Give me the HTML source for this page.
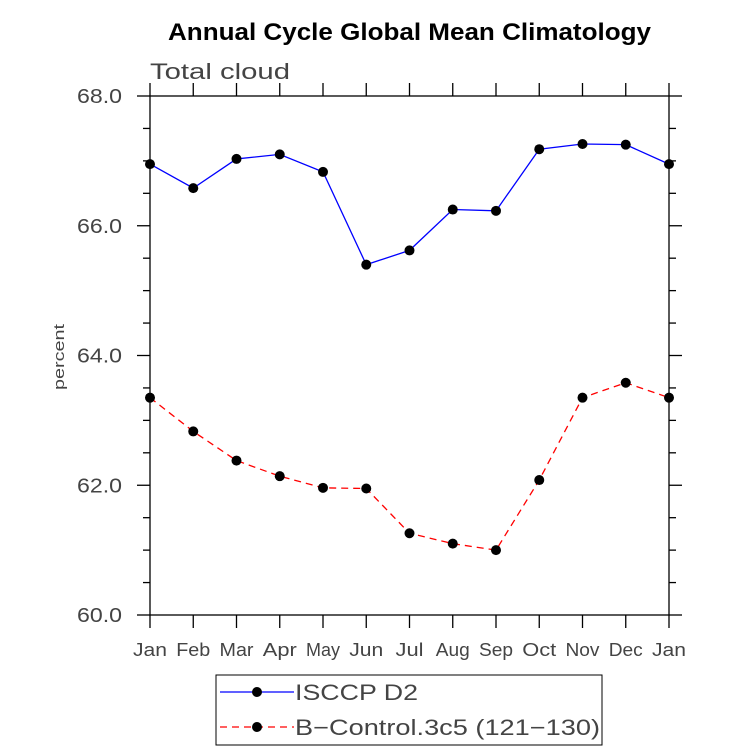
<!DOCTYPE html>
<html><head><style>body{margin:0;background:#fff}</style></head><body>
<svg width="733" height="751" xmlns="http://www.w3.org/2000/svg" font-family="Liberation Sans, sans-serif">
<rect width="733" height="751" fill="#fff"/>
<text x="168" y="40" textLength="483" lengthAdjust="spacingAndGlyphs" font-size="24" font-weight="bold">Annual Cycle Global Mean Climatology</text>
<text x="150" y="79" textLength="140" lengthAdjust="spacingAndGlyphs" font-size="22" fill="#444">Total cloud</text>
<text x="64" y="357" font-size="15" fill="#444" text-anchor="middle" transform="rotate(-90 64 357)" textLength="66" lengthAdjust="spacingAndGlyphs">percent</text>
<g id="ax" stroke="#000" stroke-width="1.3" fill="none">
<rect x="150" y="96" width="519" height="519"/>
</g>
<g id="ticks" stroke="#000" stroke-width="1.3"></g>
<g id="lbl" font-size="20" fill="#444"></g>
<polyline id="b" fill="none" stroke="#0000ff" stroke-width="1.3"/>
<polyline id="r" fill="none" stroke="#ff0000" stroke-width="1.3" stroke-dasharray="7,5"/>
<g id="pts" fill="#000"></g>
<rect x="216" y="675" width="386" height="70" fill="none" stroke="#000" stroke-width="1"/>
<line x1="220" y1="692" x2="294" y2="692" stroke="#0000ff" stroke-width="1.3"/>
<circle cx="257" cy="692" r="5"/>
<text x="295" y="700" font-size="22" fill="#444" textLength="123" lengthAdjust="spacingAndGlyphs">ISCCP D2</text>
<line x1="220" y1="727" x2="294" y2="727" stroke="#ff0000" stroke-width="1.3" stroke-dasharray="7,5"/>
<circle cx="257" cy="727" r="5"/>
<text x="295" y="735" font-size="22" fill="#444" textLength="305" lengthAdjust="spacingAndGlyphs">B−Control.3c5 (121−130)</text>
</svg>
<script>
var ns="http://www.w3.org/2000/svg";
function el(p,t,a){var e=document.createElementNS(ns,t);for(var k in a)e.setAttribute(k,a[k]);document.getElementById(p).appendChild(e);return e;}
var X=function(i){return 150+i*519/12},Y=function(v){return 96+(68-v)*519/8};
var m=["Jan","Feb","Mar","Apr","May","Jun","Jul","Aug","Sep","Oct","Nov","Dec","Jan"];
for(var i=0;i<13;i++){var x=X(i);el("ticks","line",{x1:x,y1:615,x2:x,y2:628});el("ticks","line",{x1:x,y1:96,x2:x,y2:83});
var t=el("lbl","text",{x:x,y:656,"text-anchor":"middle","font-size":"18",textLength:(m[i]=="Jul"?28:34),lengthAdjust:"spacingAndGlyphs"});t.textContent=m[i];}
for(var k=0;k<=16;k++){var v=60+k*0.5,y=Y(v),L=(k%4==0)?13:7;
el("ticks","line",{x1:150,y1:y,x2:150-L,y2:y});el("ticks","line",{x1:669,y1:y,x2:669+L,y2:y});
if(k%4==0){var t=el("lbl","text",{x:77,y:y+7,textLength:45,lengthAdjust:"spacingAndGlyphs"});t.textContent=v.toFixed(1);}}
var b=[66.95,66.58,67.03,67.10,66.83,65.40,65.62,66.25,66.23,67.18,67.26,67.25,66.95];
var r=[63.35,62.83,62.38,62.14,61.96,61.95,61.26,61.10,61.00,62.08,63.35,63.58,63.35];
function pl(id,d){var s=d.map(function(v,i){return X(i)+","+Y(v)}).join(" ");document.getElementById(id).setAttribute("points",s);
d.forEach(function(v,i){el("pts","circle",{cx:X(i),cy:Y(v),r:5});});}
pl("b",b);pl("r",r);
</script>
</body></html>
